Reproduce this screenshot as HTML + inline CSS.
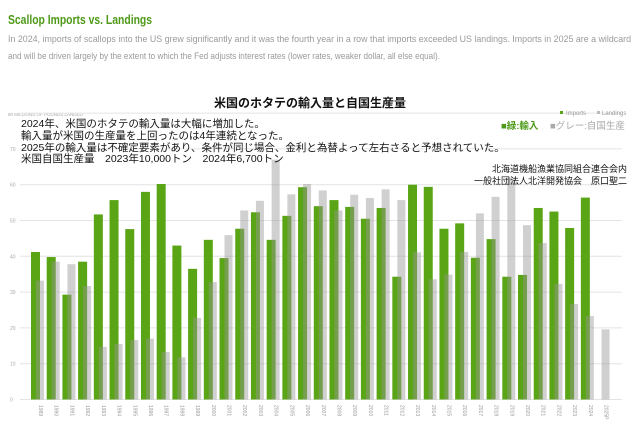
<!DOCTYPE html>
<html><head><meta charset="utf-8"><style>
body{margin:0;width:640px;height:437px;background:#fff;overflow:hidden;font-family:"Liberation Sans","Noto Sans CJK JP",sans-serif;}
</style></head><body>
<svg width="640" height="437" style="position:absolute;left:0;top:0">
<text x="8" y="24" font-size="13" font-weight="bold" fill="#4e9a18" textLength="144" lengthAdjust="spacingAndGlyphs">Scallop Imports vs. Landings</text>
<text x="8" y="42" font-size="9.5" fill="#9a9a9a" textLength="623" lengthAdjust="spacingAndGlyphs">In 2024, imports of scallops into the US grew significantly and it was the fourth year in a row that imports exceeded US landings. Imports in 2025 are a wildcard</text>
<text x="8" y="59" font-size="9.5" fill="#9a9a9a" textLength="432" lengthAdjust="spacingAndGlyphs">and will be driven largely by the extent to which the Fed adjusts interest rates (lower rates, weaker dollar, all else equal).</text>
<text x="310" y="107" font-size="12" font-weight="bold" text-anchor="middle" fill="#111">米国のホタテの輸入量と自国生産量</text>
<text x="8" y="116" font-size="4.5" fill="#aaa">80 MILLIONS OF POUNDS LANDED</text>
<g id="grid"></g>
<g id="bars"></g>
<g id="xlabels"></g>
<g>
<rect x="560" y="111" width="3" height="3" fill="#5aa515"/><text x="566" y="115" font-size="6" fill="#999">Imports</text>
<rect x="597" y="111" width="3" height="3" fill="#bbb"/><text x="602" y="115" font-size="6" fill="#999">Landings</text>
<text x="501" y="129" font-size="9.5" font-weight="bold" fill="#4e9a18">■緑:輸入</text>
<text x="550" y="129" font-size="9.5" fill="#aaa">■グレー:自国生産</text>
</g>
<g font-size="10.5" fill="#111">
<text x="21" y="127">2024年、米国のホタテの輸入量は大幅に増加した。</text>
<text x="21" y="139">輸入量が米国の生産量を上回ったのは4年連続となった。</text>
<text x="21" y="151">2025年の輸入量は不確定要素があり、条件が同じ場合、金利と為替よって左右さると予想されていた。</text>
<text x="21" y="162">米国自国生産量　2023年10,000トン　2024年6,700トン</text>
</g>
<g font-size="9" fill="#111" text-anchor="end">
<text x="627" y="172">北海道機船漁業協同組合連合会内</text>
<text x="627" y="184">一般社団法人北洋開発協会　原口聖二</text>
</g>
</svg>
<script>
const years=["1989","1990","1991","1992","1993","1994","1995","1996","1997","1998","1999","2000","2001","2002","2003","2004","2005","2006","2007","2008","2009","2010","2011","2012","2013","2014","2015","2016","2017","2018","2019","2020","2021","2022","2023","2024","2025P"];
const imports=[41.2,39.8,29.3,38.5,51.7,55.7,47.6,58,60.2,43,36.5,44.6,39.5,47.7,52.3,44.6,51.3,59.3,54,55.7,53.8,50.5,53.5,34.3,60,59.4,47.7,49.2,39.6,44.8,34.3,34.8,53.5,52.5,47.9,56.4,null];
const landings=[33.2,38.5,37.8,31.7,14.7,15.5,16.6,17,13.3,11.8,22.8,32.8,45.9,52.8,55.5,67,57.3,60.2,58.4,52.8,57.2,56.3,58.7,55.7,41.1,33.6,34.9,41.2,52,56.6,62,48.7,43.7,32.3,26.7,23.3,19.6];
const yTicks=[0,10,20,30,40,50,60,70,80];
const NS="http://www.w3.org/2000/svg";
const y=v=>399.5-v*3.58;
const x=i=>38+i*15.71;
function mk(t,a,p){const e=document.createElementNS(NS,t);for(const k in a)e.setAttribute(k,a[k]);p.appendChild(e);return e;}
const grid=document.getElementById('grid'),bars=document.getElementById('bars'),xl=document.getElementById('xlabels');
yTicks.forEach(t=>{
  const l=mk('line',{x1:20,x2:622,y1:y(t),y2:y(t),stroke:'#e4e4e4','stroke-width':1},grid);
  
  
  if(t<80){const tx=mk('text',{x:10,y:y(t)+2,'font-size':5,fill:'#aaa'},grid);tx.textContent=t;
  
  }
});
years.forEach((yr,i)=>{
  const c=x(i);
  if(imports[i]!=null){const r=mk('rect',{x:c-7,y:y(imports[i]),width:9,height:y(0)-y(imports[i]),fill:'#5aa515'},bars);
  
  }
  const g=mk('rect',{x:c-2,y:y(landings[i]),width:8,height:y(0)-y(landings[i]),fill:'rgba(150,150,150,0.45)'},bars);
  
  
  const t=mk('text',{x:0,y:0,'font-size':5,fill:'#999',transform:`translate(${c+1},405) rotate(90)`},xl);
  t.textContent=yr;
  
  
});
</script>
</body></html>
